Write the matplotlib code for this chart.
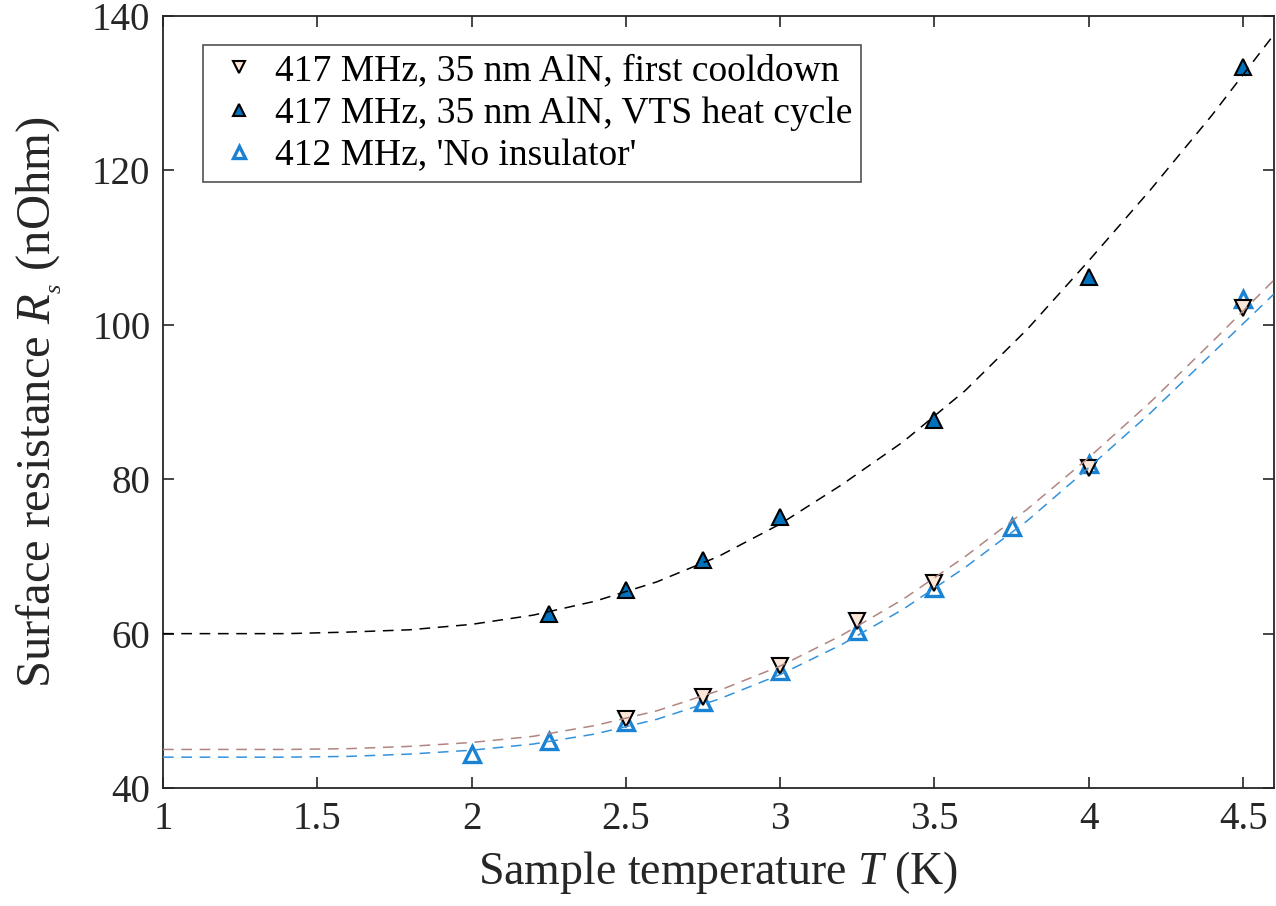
import matplotlib
matplotlib.use('Agg')
import matplotlib.pyplot as plt

plt.rcParams['font.family'] = 'serif'
plt.rcParams['font.serif'] = ['Liberation Serif', 'DejaVu Serif']
plt.rcParams['mathtext.fontset'] = 'custom'
plt.rcParams['mathtext.rm'] = 'Liberation Serif'
plt.rcParams['mathtext.it'] = 'Liberation Serif:italic'

# measured points (T in K, Rs in nOhm)
t_cool = [2.5, 2.75, 3.0, 3.25, 3.5, 4.0, 4.5]
rs_cool = [48.9, 51.8, 55.8, 61.6, 66.6, 81.5, 102.2]

t_vts = [2.25, 2.5, 2.75, 3.0, 3.5, 4.0, 4.5]
rs_vts = [62.6, 65.7, 69.6, 75.1, 87.7, 106.2, 133.4]

t_noins = [2.0, 2.25, 2.5, 2.75, 3.0, 3.25, 3.5, 3.75, 4.0, 4.5]
rs_noins = [44.4, 46.1, 48.5, 51.2, 55.1, 60.3, 65.9, 73.8, 82.0, 103.4]

# fit curves
t_fit = [1.0, 1.2, 1.4, 1.6, 1.8, 2.0, 2.2, 2.4, 2.6, 2.8,
         3.0, 3.2, 3.4, 3.6, 3.8, 4.0, 4.2, 4.4, 4.6]
fit_vts = [60.0, 60.0, 60.0, 60.2, 60.5, 61.2, 62.4, 64.2, 66.7, 70.0,
           74.2, 79.3, 84.9, 91.5, 99.4, 108.3, 117.5, 127.2, 137.6]
fit_cool = [45.0, 45.0, 45.0, 45.1, 45.4, 45.9, 46.7, 48.1, 50.0, 52.6,
            55.8, 59.8, 64.5, 70.0, 76.1, 82.8, 90.0, 97.8, 105.8]
fit_noins = [44.0, 44.0, 44.0, 44.1, 44.4, 44.9, 45.7, 47.0, 48.9, 51.5,
             54.7, 58.6, 63.2, 68.6, 74.6, 81.5, 88.6, 96.3, 104.0]

labels = ['417 MHz, 35 nm AlN, first cooldown',
          '417 MHz, 35 nm AlN, VTS heat cycle',
          "412 MHz, 'No insulator'"]

serif = 'Liberation Serif'
blue = '#0072BD'
fig = plt.figure(figsize=(12.76, 9.06), dpi=100)
ax = fig.add_axes([0.1277, 0.1302, 0.8707, 0.8521])

ax.plot(t_cool, rs_cool, linestyle='none', marker='v', ms=12, mfc='#fce6d8',
        mec='black', mew=1.5, label=labels[0], zorder=3)
ax.plot(t_vts, rs_vts, linestyle='none', marker='^', ms=12, mfc=blue,
        mec='black', mew=1.5, label=labels[1], zorder=3)
ax.plot(t_noins, rs_noins, linestyle='none', marker='^', ms=12, mfc='white',
        mec='#1a82d2', mew=2.4, label=labels[2], zorder=2.5)

ax.plot(t_fit, fit_vts, '--', color='black', lw=1.1, dashes=(7, 5), zorder=4)
ax.plot(t_fit, fit_cool, '--', color='#b08580', lw=1.1, dashes=(7, 5), zorder=4)
ax.plot(t_fit, fit_noins, '--', color='#3392dc', lw=1.1, dashes=(7, 5), zorder=4)

ax.set_xlim(1, 4.6)
ax.set_ylim(40, 140)
ax.set_xticks([1, 1.5, 2, 2.5, 3, 3.5, 4, 4.5])
ax.set_xticklabels(['1', '1.5', '2', '2.5', '3', '3.5', '4', '4.5'], family=serif)
ax.set_yticks([40, 60, 80, 100, 120, 140])
ax.set_yticklabels(['40', '60', '80', '100', '120', '140'], family=serif)

ax.tick_params(direction='in', length=8, width=1.2, top=True, right=True,
               labelsize=28, colors='#262626', pad=9)
for s in ax.spines.values():
    s.set_color('#262626')
    s.set_linewidth(1.3)

ax.set_xlabel('Sample temperature $T$ (K)', fontsize=33, color='#262626',
              labelpad=8, family=serif)
ax.set_ylabel('Surface resistance $R_{_s}$ (nOhm)', fontsize=35, color='#262626',
              labelpad=20, family=serif)

leg = ax.legend(loc='upper left', bbox_to_anchor=(0.036, 0.962),
                prop={'family': serif, 'size': 27},
                frameon=True, fancybox=False, edgecolor='#262626',
                handletextpad=0.2, handlelength=1.5, borderpad=0.22,
                labelspacing=0.22, borderaxespad=0)
leg.get_frame().set_linewidth(1.2)
for h in leg.legend_handles:
    h.set_markersize(9)

fig.savefig('out.png', dpi=100)
